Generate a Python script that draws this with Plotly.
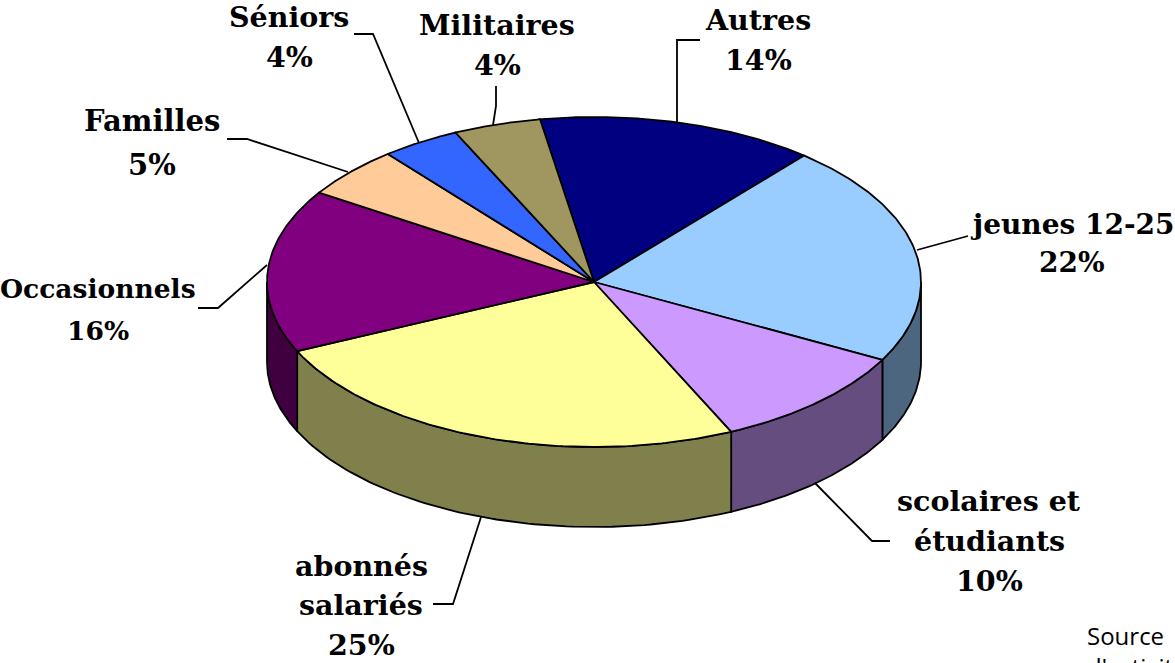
import numpy as np
import plotly.graph_objects as go

# Data
categories = ["Autres", "jeunes 12-25", "scolaires et<br>étudiants", "abonnés<br>salariés",
              "Occasionnels", "Familles", "Séniors", "Militaires"]
percent_labels = [14, 22, 10, 25, 16, 5, 4, 4]
shares = [13.75, 21.7, 10.3, 25.0, 16.0, 5.03, 3.9, 4.32]
top_colors = ["#000080", "#99CCFF", "#CC99FF", "#FFFF99", "#800080", "#FFCC99", "#3366FF", "#A09660"]
side_colors = ["#000040", "#4D6680", "#664D80", "#80804D", "#400040", "#806650", "#1A3380", "#504B30"]

# Pie geometry (pixels of the page)
CX, CY, RX, RY, DEPTH = 594, 282, 327, 165, 80
START = 350.5

label_x = [758, 1072, 989, 361, 98, 152, 289, 497]
label_y = [[20, 60], [224, 262], [501, 541, 581], [566, 605, 645], [288, 330], [121, 165], [17, 57], [25, 65]]
label_size = [28.5, 28, 28.5, 28.5, 26.5, 29, 28.5, 28.5]
leaders = [
    [(677, 122), (677, 40), (700, 40)],
    [(917, 250), (968, 236)],
    [(815, 483), (872, 541), (890, 541)],
    [(481, 517), (453, 604), (433, 604)],
    [(267, 265), (218, 308), (198, 308)],
    [(348, 172), (247, 139), (227, 139)],
    [(419, 143), (373, 34), (354, 34)],
    [(493, 125), (496, 106), (496, 86)],
]


def ell(a):
    r = np.radians(a)
    return CX + RX * np.sin(r), CY - RY * np.cos(r)


fig = go.Figure()
edges = START + np.concatenate([[0], np.cumsum(shares)]) / sum(shares) * 360
common = dict(mode="lines", hoverinfo="skip", showlegend=False, line=dict(color="black", width=1.8))

# Side walls: visible only on the front half of the ellipse
for i in range(len(shares)):
    for shift in (0, 360, -360):
        a0 = max(edges[i] + shift, 90)
        a1 = min(edges[i + 1] + shift, 270)
        if a1 > a0:
            t = np.linspace(a0, a1, 80)
            x, y = ell(t)
            fig.add_trace(go.Scatter(
                x=np.concatenate([x, x[::-1], x[:1]]),
                y=np.concatenate([y, y[::-1] + DEPTH, y[:1]]),
                fill="toself", fillcolor=side_colors[i], **common))

# Top wedges
for i in range(len(shares)):
    t = np.linspace(edges[i], edges[i + 1], 120)
    x, y = ell(t)
    fig.add_trace(go.Scatter(
        x=np.concatenate([[CX], x, [CX]]),
        y=np.concatenate([[CY], y, [CY]]),
        fill="toself", fillcolor=top_colors[i], **common))

# Leader lines
for pts in leaders:
    fig.add_trace(go.Scatter(x=[p[0] for p in pts], y=[p[1] for p in pts], **common))

# Labels, one annotation per line of text
for cat, val, lx, ys, sz in zip(categories, percent_labels, label_x, label_y, label_size):
    for line, ly in zip(cat.split("<br>") + [f"{val}%"], ys):
        fig.add_annotation(x=lx, y=ly, xref="x", yref="y", showarrow=False,
                           text=f"<b>{line}</b>", xanchor="center", yanchor="middle",
                           font=dict(family="DejaVu Serif", size=sz, color="black"))

fig.add_annotation(x=1085, y=617, xref="x", yref="y", showarrow=False, xanchor="left", yanchor="top",
                   align="left", text="Source<br>d'activité",
                   font=dict(family="Open Sans", size=24, color="black"))

fig.update_layout(
    width=1175, height=663, margin=dict(l=0, r=0, t=0, b=0),
    paper_bgcolor="white", plot_bgcolor="white",
    xaxis=dict(range=[0, 1175], visible=False, fixedrange=True),
    yaxis=dict(range=[663, 0], visible=False, fixedrange=True),
)
fig.write_html("out.html", config={"displayModeBar": False},
               post_script="document.body.style.margin='0';document.body.style.overflow='hidden';")
